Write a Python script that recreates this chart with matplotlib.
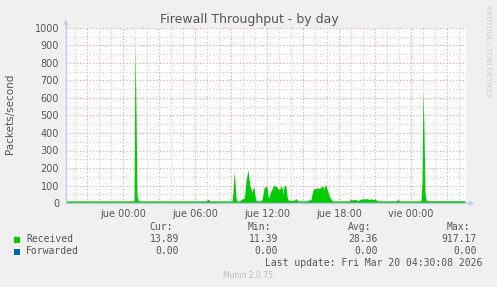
import pandas as pd
import matplotlib
matplotlib.use("Agg")
import matplotlib.pyplot as plt
from matplotlib.patches import Rectangle
from matplotlib.lines import Line2D
import matplotlib.dates as mdates

# 5 minute samples, Wed 18 Mar 19:15 -> Fri 20 Mar 04:30
received = ([12] * 69 + [917.17, 520, 45, 18] + [12] * 68 + [18, 22, 16]
            + [12] * 23 + [60, 178, 120, 30] + [12, 11, 12, 13] + [20, 22, 24, 28]
            + [60, 130, 160, 190, 140, 100, 80, 60, 85, 90, 40]
            + [15, 13, 12, 12, 13, 14, 20] + [50, 85, 92, 95, 90, 40, 30]
            + [55, 70, 80, 95] + [100, 98, 96, 90] + [80, 78, 82] + [95, 92] + [50]
            + [95, 100, 97] + [40] + [18, 16, 15, 14, 15, 16, 15] + [22, 25, 20]
            + [12] * 10 + [16, 18, 17, 20] + [50, 75, 80]
            + [85, 82, 88, 80, 84, 86, 90] + [97, 95, 75] + [103, 100]
            + [80, 65, 45] + [30, 22] + [12] * 18
            + [18, 22, 20, 16, 21, 22, 18, 15] + [13, 14]
            + [20, 22, 24, 23, 25, 22, 24, 25, 23, 20, 22, 24, 21, 20, 22, 23, 18, 15]
            + [12] * 19 + [16, 20, 15] + [12] * 22 + [120, 650, 400, 60, 20]
            + [13] * 38 + [13.89])
forwarded = [0] * len(received)

series_names = ["Received", "Forwarded"]
series_colors = ["#00CC00", "#0066B3"]
cur_vals = ["13.89", "0.00"]
min_vals = ["11.39", "0.00"]
avg_vals = ["28.36", "0.00"]
max_vals = ["917.17", "0.00"]

times = pd.date_range("2026-03-18 19:15", periods=len(received), freq="5min")

W, H = 497, 287
fig = plt.figure(figsize=(W / 100, H / 100), dpi=100, facecolor="#F0F0F0")


def fx(x):
    return x / W


def fy(y):
    return 1 - y / H


left, top, right, bottom = 66, 28, 466, 203
ax = fig.add_axes([fx(left), fy(bottom), fx(right) - fx(left), fy(top) - fy(bottom)])
ax.set_facecolor("white")

ax.fill_between(times, received, 0, color=series_colors[0], linewidth=0)
ax.plot(times, forwarded, color=series_colors[1], linewidth=0.8)

ax.set_xlim(times[0], times[-1] + pd.Timedelta("5min"))
ax.set_ylim(0, 1000)

ax.set_yticks(range(0, 1001, 100))
ax.set_yticks(range(50, 1000, 100), minor=True)
ax.xaxis.set_major_locator(mdates.HourLocator(byhour=range(0, 24, 3)))
ax.xaxis.set_minor_locator(mdates.HourLocator())

days = {3: "jue", 4: "vie"}
ax.xaxis.set_major_formatter(plt.FuncFormatter(
    lambda v, p: (days.get(mdates.num2date(v).weekday(), "") + mdates.num2date(v).strftime(" %H:%M"))
    if mdates.num2date(v).hour % 6 == 0 else ""))

ax.grid(which="major", color="#E8A0A0", linestyle=(0, (1, 2)), linewidth=0.8)
ax.grid(which="minor", color="#CFCFCF", linestyle=(0, (1, 2)), linewidth=0.8)
ax.set_axisbelow(True)
for s in ax.spines.values():
    s.set_visible(False)
ax.tick_params(which="both", length=0, labelsize=7, colors="#555555")
ax.tick_params(axis="y", pad=5)
ax.tick_params(axis="x", pad=4)

# axis lines with arrows
axc = "#C4C8F0"
fig.add_artist(Line2D([fx(left), fx(471)], [fy(bottom), fy(bottom)], color=axc, lw=1))
fig.add_artist(Line2D([fx(left), fx(left)], [fy(bottom), fy(22)], color=axc, lw=1))
fig.text(fx(472), fy(bottom), "\u25B6", color=axc, fontsize=5, ha="center", va="center")
fig.text(fx(left), fy(22), "\u25B2", color=axc, fontsize=5, ha="center", va="center")

fig.text(fx(249), fy(19), "Firewall Throughput - by day", ha="center", va="center",
         fontsize=9, color="#555555")
fig.text(fx(10), fy(114), "Packets/second", rotation=90, ha="center", va="center",
         fontsize=7.5, color="#555555")
fig.text(fx(488), fy(5), "RRDTOOL / TOBI OETIKER", rotation=270, ha="center", va="top",
         fontsize=5.2, color="#CCCCCC")

mono = dict(family="DejaVu Sans Mono", fontsize=7, color="#555555", va="center")
for head, xl in zip(["Cur:", "Min:", "Avg:", "Max:"], [149, 248, 348, 447]):
    fig.text(fx(xl), fy(227), head, ha="left", **mono)

rows_y = [239.5, 251.5]
for i, name in enumerate(series_names):
    fig.add_artist(Rectangle((fx(14), fy(rows_y[i] + 3)), fx(6), 6 / H,
                             facecolor=series_colors[i], edgecolor="none"))
    fig.text(fx(26), fy(rows_y[i]), name, ha="left", **mono)
    for val, xr in zip([cur_vals[i], min_vals[i], avg_vals[i], max_vals[i]],
                       [179, 278, 378, 477]):
        fig.text(fx(xr), fy(rows_y[i]), val, ha="right", **mono)

fig.text(fx(482), fy(263), "Last update: Fri Mar 20 04:30:08 2026", ha="right", **mono)
fig.text(fx(248), fy(276), "Munin 2.0.75", ha="center", va="center",
         fontsize=5.5, color="#BBBBBB")

fig.savefig("out.png", dpi=100, facecolor=fig.get_facecolor())
